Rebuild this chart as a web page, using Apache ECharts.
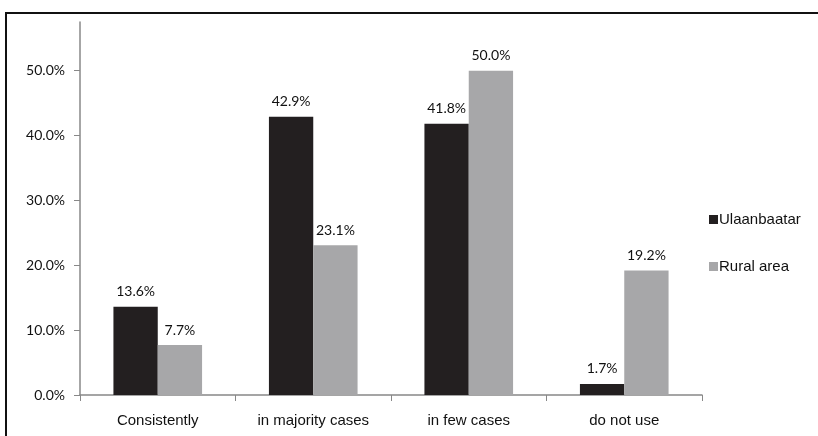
<!DOCTYPE html>
<html><head><meta charset="utf-8">
<script src="https://cdn.jsdelivr.net/npm/echarts@6/dist/echarts.min.js"></script>
<style>html,body{margin:0;padding:0;background:#fff}#c{width:818px;height:436px}</style>
</head><body><div id="c"></div>
<script>
const categories = ['Consistently', 'in majority cases', 'in few cases', 'do not use'];
const ulaanbaatar = [13.6, 42.9, 41.8, 1.7];
const ruralArea = [7.7, 23.1, 50.0, 19.2];
const yTicks = [0, 10, 20, 30, 40, 50];

const chart = echarts.init(document.getElementById('c'), null, {renderer: 'canvas'});
const labelFont = 'Lato, "Open Sans", sans-serif';
const arial = '"Liberation Sans", Arial, sans-serif';
const dataLabel = {show: true, position: 'top', distance: 8, color: '#111', fontSize: 14, fontFamily: labelFont,
  formatter: p => p.value.toFixed(1) + '%'};
chart.setOption({
  animation: false,
  backgroundColor: '#fff',
  graphic: [{type: 'rect', shape: {x: 6, y: 13, width: 900, height: 500},
    style: {fill: 'none', stroke: '#111', lineWidth: 2}}],
  grid: {left: 80, right: 116, top: 22, bottom: 41},
  legend: {
    orient: 'vertical', left: 704, top: 207, itemGap: 32, itemWidth: 9, itemHeight: 9,
    icon: 'rect', textStyle: {fontFamily: arial, fontSize: 15, color: '#111', padding: [0,0,0,-4]},
    data: ['Ulaanbaatar', 'Rural area']
  },
  xAxis: {
    type: 'category', data: categories,
    axisLine: {lineStyle: {color: '#888', width: 1.5}},
    axisTick: {show: true, length: 6, inside: false, lineStyle: {color: '#888'}},
    axisLabel: {fontFamily: arial, fontSize: 15, color: '#111', margin: 18}
  },
  yAxis: {
    type: 'value', min: 0, max: 57.5,
    splitLine: {show: false},
    axisLine: {show: true, lineStyle: {color: '#888', width: 1.5}},
    axisTick: {show: true, length: 6, customValues: yTicks, lineStyle: {color: '#888'}},
    axisLabel: {customValues: yTicks, formatter: v => v.toFixed(1) + '%', fontFamily: labelFont, fontSize: 14, color: '#111', margin: 15}
  },
  series: [
    {name: 'Ulaanbaatar', type: 'bar', data: ulaanbaatar, barGap: '0%', barCategoryGap: '43%',
     itemStyle: {color: '#231f20'}, label: dataLabel},
    {name: 'Rural area', type: 'bar', data: ruralArea,
     itemStyle: {color: '#a7a7a9'}, label: dataLabel}
  ]
});
</script></body></html>
